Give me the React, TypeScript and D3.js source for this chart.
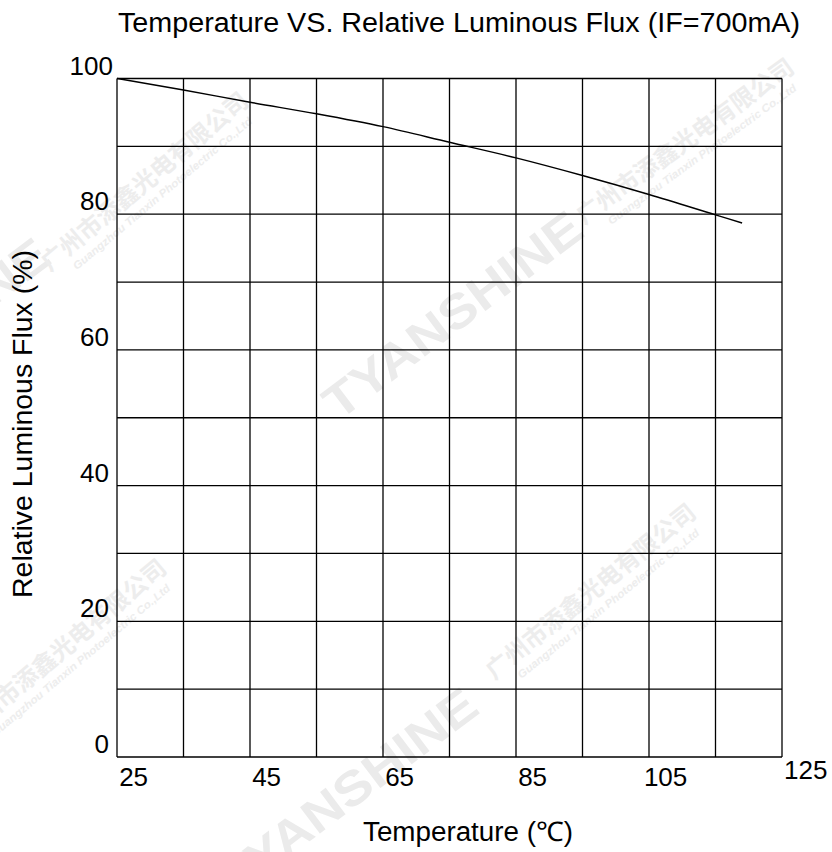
import React from "react";
import * as d3 from "d3";

const temps = [25, 35, 45, 55, 65, 75, 85, 95, 105, 115, 119];
const flux = [100, 98.3, 96.5, 94.8, 92.9, 90.6, 88.3, 85.7, 82.9, 79.9, 78.7];
const xGridValues = [25, 35, 45, 55, 65, 75, 85, 95, 105, 115, 125];
const yGridValues = [0, 10, 20, 30, 40, 50, 60, 70, 80, 90, 100];
const xTickLabels = [25, 45, 65, 85, 105, 125];
const yTickLabels = [0, 20, 40, 60, 80, 100];
const title = "Temperature  VS.  Relative Luminous Flux (IF=700mA)";
const xTitle = "Temperature (℃)";
const yTitle = "Relative Luminous Flux (%)";

const W = 832;
const H = 852;
const left = 117;
const right = 782;
const top = 78.5;
const bottom = 757;

const FONT = "'Liberation Sans', Arial, Helvetica, sans-serif";

type WM = { cx: number; cy: number; angle: number };
const bigMarks: WM[] = [
  { cx: 455, cy: 318, angle: -37 },
  { cx: 350, cy: 795, angle: -37 },
  { cx: -78, cy: 345, angle: -37 },
];
const cnMarks: WM[] = [
  { cx: 150, cy: 188, angle: -40 },
  { cx: 690, cy: 148, angle: -36 },
  { cx: 68, cy: 655, angle: -40 },
  { cx: 596, cy: 598, angle: -39 },
];

export default function App() {
  const x = d3.scaleLinear().domain([25, 125]).range([left, right]);
  const y = d3.scaleLinear().domain([0, 100]).range([bottom, top]);
  const line = d3
    .line<number>()
    .x((_, i) => x(temps[i]))
    .y((d) => y(d))
    .curve(d3.curveMonotoneX);

  return (
    <svg
      width={W}
      height={H}
      viewBox={`0 0 ${W} ${H}`}
      style={{ position: "absolute", left: 0, top: 0, background: "#fff" }}
    >
      <rect x={0} y={0} width={W} height={H} fill="#fff" />
      {/* watermarks */}
      <g pointerEvents="none">
        {bigMarks.map((m, i) => (
          <text
            key={"b" + i}
            transform={`translate(${m.cx},${m.cy}) rotate(${m.angle})`}
            textAnchor="middle"
            dominantBaseline="middle"
            fontFamily={FONT}
            fontWeight="bold"
            fontSize={48}
            fill="#ebebeb"
            textLength={310}
            lengthAdjust="spacingAndGlyphs"
          >
            TYANSHINE
          </text>
        ))}
        {cnMarks.map((m, i) => (
          <g key={"c" + i} transform={`translate(${m.cx},${m.cy}) rotate(${m.angle})`}>
            <text
              x={0}
              y={0}
              textAnchor="middle"
              fontFamily="'Noto Sans CJK SC', sans-serif"
              fontWeight="bold"
              fontSize={24}
              fill="#ededed"
              textLength={262}
              lengthAdjust="spacingAndGlyphs"
            >
              广州市添鑫光电有限公司
            </text>
            <text
              x={6}
              y={16}
              textAnchor="middle"
              fontFamily={FONT}
              fontWeight="bold"
              fontStyle="italic"
              fontSize={11}
              fill="#ededed"
              textLength={230}
              lengthAdjust="spacingAndGlyphs"
            >
              Guangzhou Tianxin Photoelectric Co.,Ltd
            </text>
          </g>
        ))}
      </g>

      {/* grid */}
      <g stroke="#000" strokeWidth={1.3}>
        {xGridValues.map((v) => (
          <line key={"vx" + v} x1={x(v)} x2={x(v)} y1={y(0)} y2={y(100)} />
        ))}
        {yGridValues.map((v) => (
          <line key={"hy" + v} x1={x(25)} x2={x(125)} y1={y(v)} y2={y(v)} />
        ))}
      </g>

      {/* curve */}
      <path d={line(flux) || ""} fill="none" stroke="#000" strokeWidth={1.4} />

      {/* y tick labels */}
      <g fontFamily={FONT} fontSize={26} fill="#000">
        {yTickLabels.map((v) => (
          <text key={"yl" + v} x={v === 100 ? 113 : 109} y={y(v) - 4} textAnchor="end">
            {v}
          </text>
        ))}
      </g>

      {/* x tick labels */}
      <g fontFamily={FONT} fontSize={26} fill="#000">
        {xTickLabels.map((v, i) =>
          i === xTickLabels.length - 1 ? (
            <text key={"xl" + v} x={x(v) + 2} y={779} textAnchor="start">
              {v}
            </text>
          ) : (
            <text key={"xl" + v} x={x(v) + 16.6} y={786} textAnchor="middle">
              {v}
            </text>
          )
        )}
      </g>

      {/* titles */}
      <text
        x={118}
        y={32}
        fontFamily={FONT}
        fontSize={27}
        fill="#000"
        textLength={682}
        lengthAdjust="spacingAndGlyphs"
      >
        {title}
      </text>
      <text
        x={468}
        y={841}
        textAnchor="middle"
        fontFamily={FONT}
        fontSize={27}
        fill="#000"
        textLength={210}
        lengthAdjust="spacingAndGlyphs"
      >
        {xTitle}
      </text>
      <text
        transform={`translate(32,424) rotate(-90)`}
        textAnchor="middle"
        fontFamily={FONT}
        fontSize={27}
        fill="#000"
        textLength={348}
        lengthAdjust="spacingAndGlyphs"
      >
        {yTitle}
      </text>
    </svg>
  );
}
